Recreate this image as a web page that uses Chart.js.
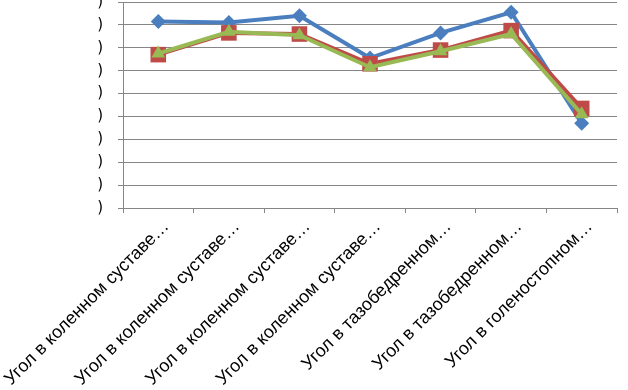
<!DOCTYPE html>
<html>
<head>
<meta charset="utf-8">
<script src="https://cdn.jsdelivr.net/npm/chart.js@4/dist/chart.umd.min.js"></script>
<style>
  html, body { margin: 0; padding: 0; background: #fff; overflow: hidden; }
  /* the picture is cropped at the top: shift the canvas up a little */
  #wrap { width: 628px; height: 399px; margin-top: -9px; position: relative; }
</style>
</head>
<body>
<div id="wrap"><canvas id="angleChart"></canvas></div>
<script>
// categories (truncated as in the picture)
const categories = [
  'Угол в коленном суставе…',
  'Угол в коленном суставе…',
  'Угол в коленном суставе…',
  'Угол в коленном суставе…',
  'Угол в тазобедренном…',
  'Угол в тазобедренном…',
  'Угол в голеностопном…'
];

// values
const seriesBlue = [163, 162, 168, 131, 153, 171, 74];
const seriesRed = [134, 153, 152, 126, 138, 155, 87];
const seriesGreen = [135, 154, 151, 123, 137, 152, 82];

// y tick labels are cut off in the picture, only the edge survives
const yTickText = ')';

const ctx = document.getElementById('angleChart').getContext('2d');

const chart = new Chart(ctx, {
  type: 'line',
  data: {
    labels: categories,
    datasets: [
      {
        label: 'Ряд 1',
        data: seriesBlue,
        borderColor: '#4A7EBF',
        backgroundColor: '#4A7EBF',
        borderWidth: 4,
        pointStyle: 'rectRot',
        pointRadius: 7.5,
        pointBorderWidth: 0,
        tension: 0,
        order: 3
      },
      {
        label: 'Ряд 2',
        data: seriesRed,
        borderColor: '#BE4B48',
        backgroundColor: '#BE4B48',
        borderWidth: 4,
        pointStyle: 'rect',
        pointRadius: 11,
        pointBorderWidth: 0,
        tension: 0,
        order: 2
      },
      {
        label: 'Ряд 3',
        data: seriesGreen,
        borderColor: '#98B954',
        backgroundColor: '#98B954',
        borderWidth: 4,
        pointStyle: 'triangle',
        pointRadius: 8,
        pointBorderWidth: 0,
        tension: 0,
        order: 1
      }
    ]
  },
  options: {
    animation: false,
    responsive: true,
    maintainAspectRatio: false,
    layout: { padding: { top: 1, right: 1, left: 0, bottom: 0 } },
    plugins: {
      legend: { display: false },
      tooltip: { enabled: false }
    },
    scales: {
      x: {
        offset: true,
        grid: {
          offset: true,
          drawOnChartArea: false,
          drawTicks: true,
          tickLength: 5,
          color: '#868686'
        },
        border: { color: '#868686', width: 1 },
        ticks: {
          autoSkip: false,
          maxRotation: 45,
          minRotation: 45,
          padding: 3,
          labelOffset: 8,
          color: '#000',
          font: { family: 'Liberation Sans', size: 18 }
        },
        afterFit: (s) => {
          s.height = 182;
          s.paddingLeft = 0;
          s.paddingRight = 0;
        }
      },
      y: {
        min: 0,
        max: 180,
        ticks: {
          stepSize: 20,
          padding: 15,
          color: '#000',
          font: { family: 'DejaVu Sans', size: 15 },
          callback: () => yTickText
        },
        grid: {
          color: '#868686',
          tickLength: 5
        },
        border: { color: '#868686', width: 1 },
        afterFit: (s) => {
          s.width = 123;
          s.paddingTop = 0;
          s.paddingBottom = 0;
        }
      }
    }
  }
});
</script>
</body>
</html>
